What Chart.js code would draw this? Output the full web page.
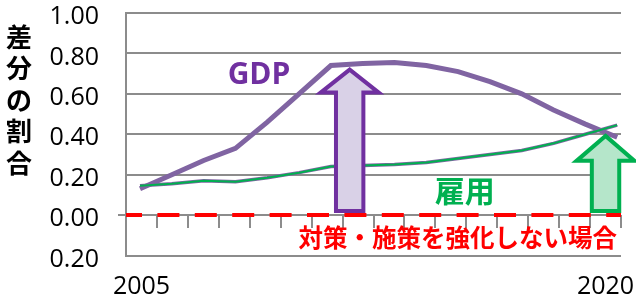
<!DOCTYPE html>
<html>
<head>
<meta charset="utf-8">
<script src="https://cdn.jsdelivr.net/npm/chart.js@4"></script>
<style>
body{margin:0;background:#fff;}
</style>
</head>
<body>
<canvas id="chart-area" width="636" height="299"></canvas>
<script>
//Data
var years = [2005,2006,2007,2008,2009,2010,2011,2012,2013,2014,2015,2016,2017,2018,2019,2020];
var gdp   = [0.13,0.20,0.27,0.33,0.46,0.60,0.74,0.75,0.755,0.74,0.71,0.66,0.60,0.52,0.45,0.385];
var koyou = [0.145,0.155,0.17,0.165,0.185,0.21,0.24,0.245,0.25,0.26,0.28,0.30,0.32,0.355,0.40,0.445];
var baseline = 0;
var xLabels = [2005, 2020];
var yTickValues = [-0.2, 0, 0.2, 0.4, 0.6, 0.8, 1.0];
var yTitle = "差分の割合";

//Axis ranges
var X_MIN = 2004.5, X_MAX = 2020.5;
// the lines in the original run a little wider than the category axis
var LINE_X_MIN = 2004.56, LINE_X_MAX = 2020.12;

var gridGray = "#8c8c8c";
var purple = "#8064a2";

function pts(vals) {
  return years.map(function(yr, i){ return {x: yr, y: vals[i]}; });
}

//Arrows + labels
var arrows = [
  {x: 2011.73, top: 0.72, line: "#7030a0", fill: "#d9d1e7", headH: 23},
  {x: 2020.0, top: 0.392, line: "#00b050", fill: "#b5e6ca", headH: 25}
];
var notes = [
  {text: "GDP", x: 2008.8, y: 0.69, color: "#7030a0", font: "bold 30px 'Open Sans'", align: "center"},
  {text: "雇用", x: 2015.45, y: 0.12, color: "#00b050", font: "bold 30px 'Noto Sans CJK JP'", align: "center"},
  {text: "対策・施策を強化しない場合", x: 2020.37, y: -0.112, color: "#ff0000", font: "bold 24.5px 'Noto Sans CJK JP'", align: "right"}
];

function drawArrow(ctx, cx, tipY, baseY, a) {
  var headW = 29, bodyW = 13.7;
  ctx.beginPath();
  ctx.moveTo(cx, tipY);
  ctx.lineTo(cx + headW, tipY + a.headH);
  ctx.lineTo(cx + bodyW, tipY + a.headH);
  ctx.lineTo(cx + bodyW, baseY);
  ctx.lineTo(cx - bodyW, baseY);
  ctx.lineTo(cx - bodyW, tipY + a.headH);
  ctx.lineTo(cx - headW, tipY + a.headH);
  ctx.closePath();
  ctx.fillStyle = a.fill;
  ctx.fill();
  ctx.lineWidth = 4;
  ctx.lineJoin = "miter";
  ctx.strokeStyle = a.line;
  ctx.stroke();
}

var extras = {
  id: "extras",
  beforeDatasetsDraw: function(chart) {
    var ctx = chart.ctx, x = chart.scales.x, y = chart.scales.y;
    var y0 = y.getPixelForValue(0);
    ctx.save();
    ctx.strokeStyle = gridGray;
    ctx.lineWidth = 2;
    ctx.beginPath();
    for (var v = X_MIN + 1; v <= X_MAX; v++) {
      var px = Math.round(x.getPixelForValue(v));
      ctx.moveTo(px, y0);
      ctx.lineTo(px, y0 + 13);
    }
    ctx.moveTo(x.left - 8, y0);
    ctx.lineTo(x.left, y0);
    ctx.stroke();
    ctx.restore();
  },
  afterDatasetsDraw: function(chart) {
    var ctx = chart.ctx, x = chart.scales.x, y = chart.scales.y;
    ctx.save();
    arrows.forEach(function(a){
      drawArrow(ctx, x.getPixelForValue(a.x), y.getPixelForValue(a.top), y.getPixelForValue(0) - 4, a);
    });
    notes.forEach(function(n){
      ctx.font = n.font;
      ctx.fillStyle = n.color;
      ctx.textAlign = n.align;
      ctx.textBaseline = "middle";
      ctx.fillText(n.text, x.getPixelForValue(n.x), y.getPixelForValue(n.y));
    });
    //vertical y title
    ctx.font = "bold 26px 'Noto Sans CJK JP'";
    ctx.fillStyle = "#000";
    ctx.textAlign = "center";
    for (var i = 0; i < yTitle.length; i++) {
      ctx.fillText(yTitle[i], 19, 37 + i * 31.5);
    }
    ctx.restore();
  }
};

var config = {
  type: "line",
  data: {
    datasets: [
      {data: pts(koyou), xAxisID: "x2", borderColor: "#00b050", borderWidth: 2, pointRadius: 0, tension: 0},
      {data: pts(koyou), xAxisID: "x2", borderColor: purple, borderWidth: 3.5, pointRadius: 0, tension: 0},
      {data: pts(gdp), xAxisID: "x2", borderColor: purple, borderWidth: 5, pointRadius: 0, tension: 0},
      {data: [{x: X_MIN, y: baseline}, {x: X_MAX, y: baseline}], xAxisID: "x",
       borderColor: "#ff0000", borderWidth: 4, borderDash: [22, 15.4], borderDashOffset: 6,
       borderCapStyle: "butt", pointRadius: 0, clip: false}
    ]
  },
  options: {
    responsive: false,
    animation: false,
    layout: {padding: {top: 13, right: 15, left: 0, bottom: 0}},
    plugins: {legend: {display: false}, tooltip: {enabled: false}},
    scales: {
      x: {
        type: "linear", min: X_MIN, max: X_MAX, position: "bottom",
        grid: {display: false, drawTicks: false}, border: {display: false},
        afterBuildTicks: function(axis){ axis.ticks = xLabels.map(function(v){ return {value: v}; }); },
        afterFit: function(axis){ axis.height = 43.5; axis.paddingLeft = 0; axis.paddingRight = 0; },
        ticks: {
          color: "#000", padding: 16, maxRotation: 0, autoSkip: false,
          font: {family: "'Open Sans'", size: 25, lineHeight: 1.2},
          callback: function(v){ return String(v); }
        }
      },
      x2: {type: "linear", min: LINE_X_MIN, max: LINE_X_MAX, display: false},
      y: {
        min: -0.2, max: 1.0,
        afterBuildTicks: function(axis){ axis.ticks = yTickValues.map(function(v){ return {value: v}; }); },
        afterFit: function(axis){ axis.width = 126; axis.paddingTop = 0; axis.paddingBottom = 0; },
        grid: {color: gridGray, lineWidth: 2, drawTicks: false},
        border: {color: gridGray, width: 2},
        ticks: {
          color: "#000", padding: 27, labelOffset: 4,
          font: {family: "'Open Sans'", size: 25, lineHeight: 1.0},
          callback: function(v){ return Math.abs(v).toFixed(2); }
        }
      }
    }
  },
  plugins: [extras]
};

var ctx = document.getElementById("chart-area").getContext("2d");
var myChart = new Chart(ctx, config);
</script>
</body>
</html>
